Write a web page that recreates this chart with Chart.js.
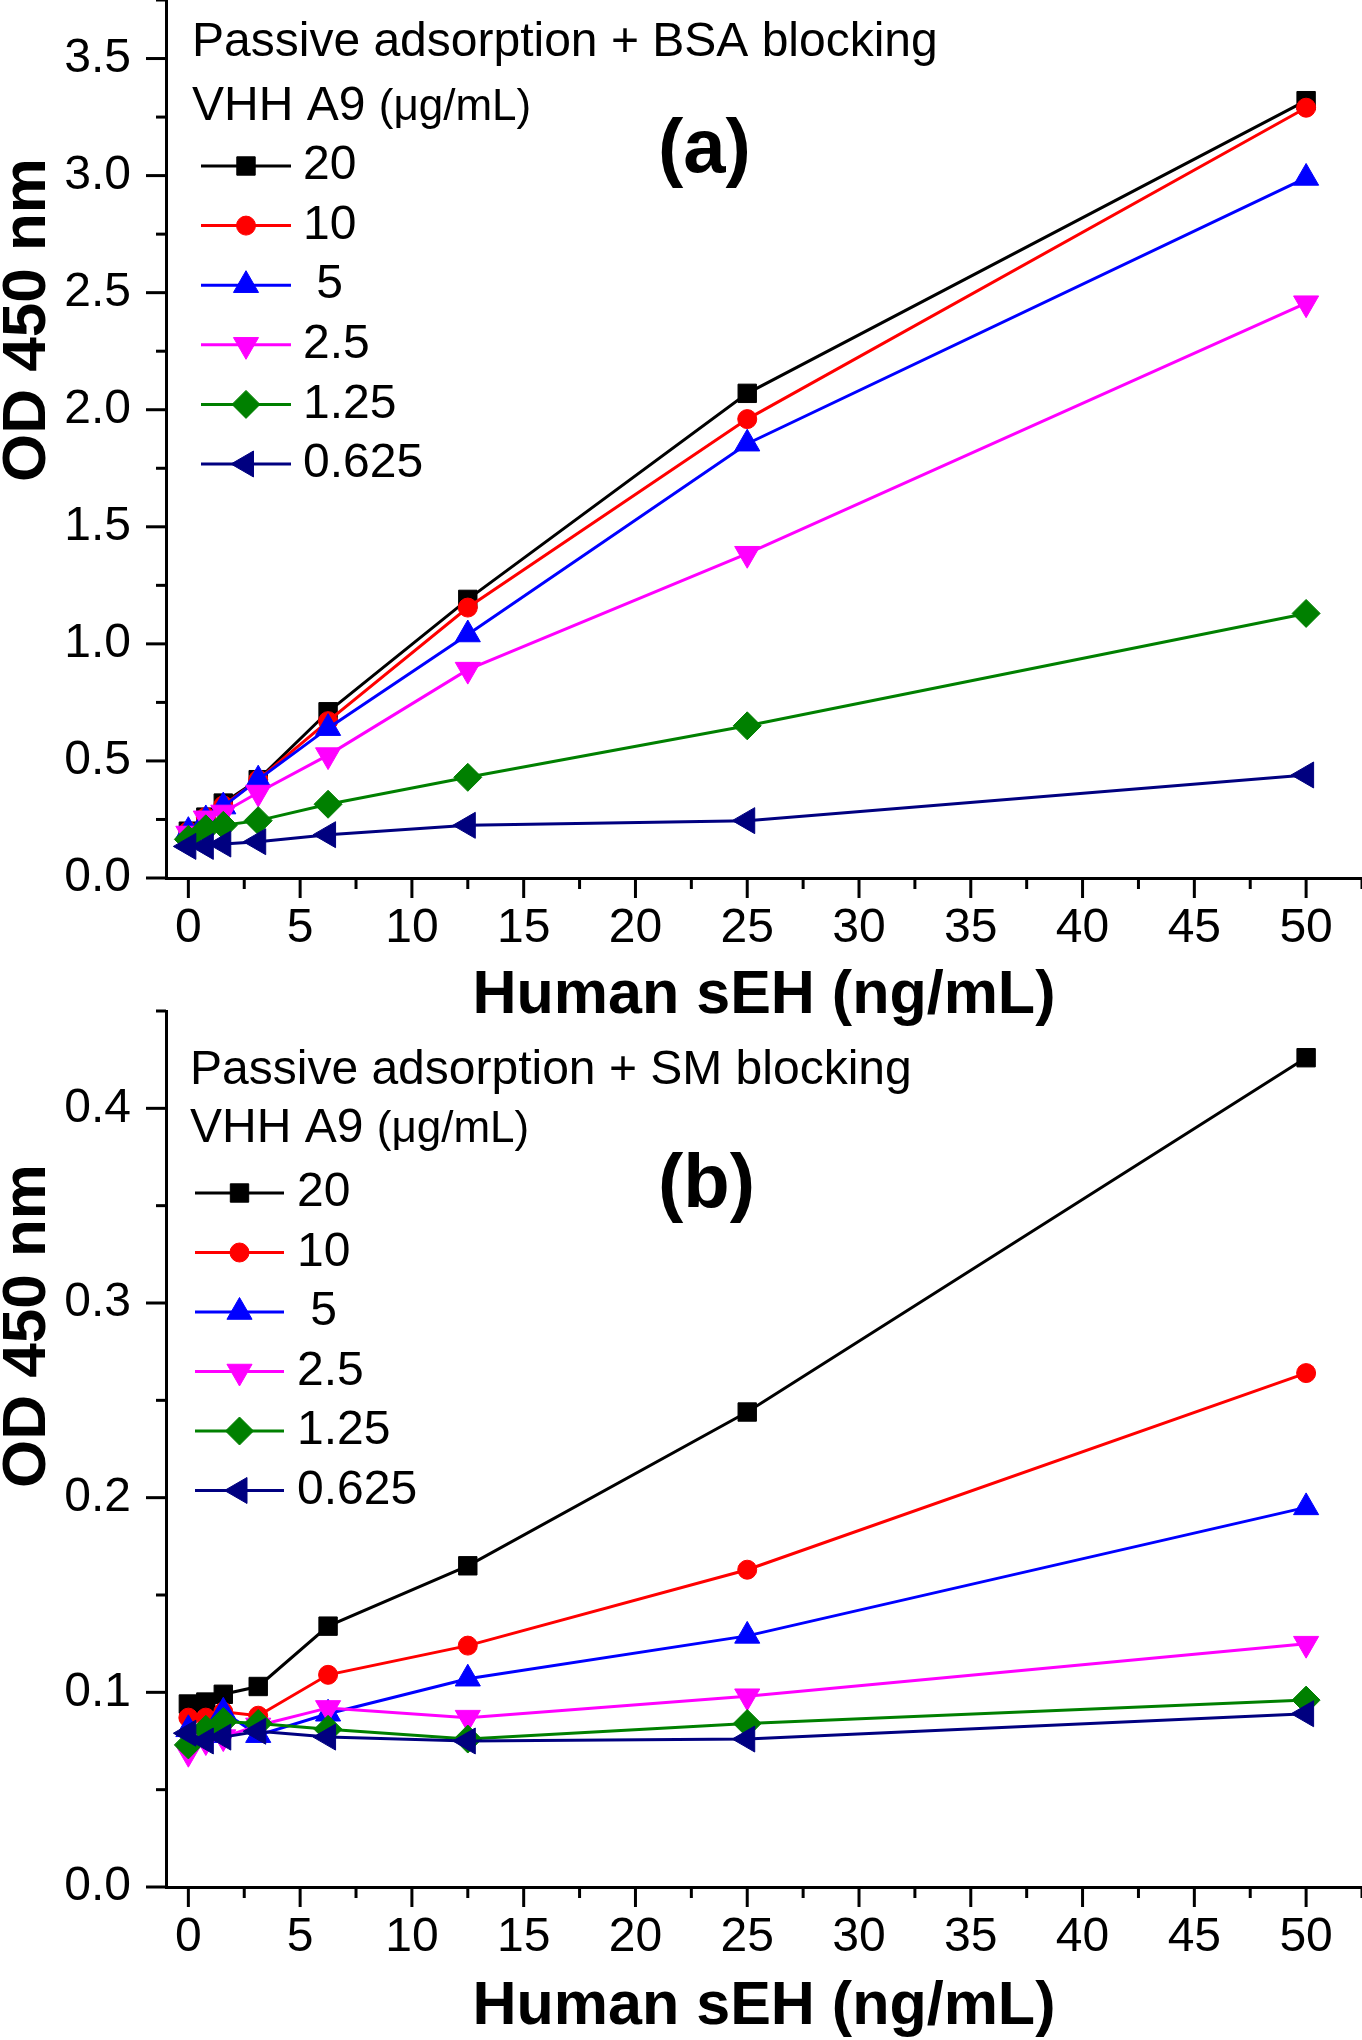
<!DOCTYPE html>
<html lang="en">
<head>
  <meta charset="UTF-8">
  <title>VHH A9 ELISA - Human sEH</title>
  <script src="https://cdn.jsdelivr.net/npm/chart.js"></script>
  <style>
    html, body {
      margin: 0;
      padding: 0;
      background: #fff;
    }
    #wrap {
      position: relative;
      width: 1362px;
      height: 2040px;
    }
    canvas {
      position: absolute;
      left: 0;
    }
    #chartA { top: 0; }
    #chartB { top: 990px; }
  </style>
</head>
<body>

  <div id="wrap">
    <canvas id="chartA" width="1362" height="1040"></canvas>
    <canvas id="chartB" width="1362" height="1050"></canvas>
  </div>

  <script>
    // Human sEH concentrations (ng/mL)
    const sehConc = [0, 0.78125, 1.5625, 3.125, 6.25, 12.5, 25, 50];
    // VHH A9 coating concentrations (ug/mL)
    const vhhLabels = ['20', '10', ' 5', '2.5', '1.25', '0.625'];

    // (a) passive adsorption + BSA blocking
    const bsa20   = [0.20, 0.26, 0.32, 0.42, 0.71, 1.19, 2.07, 3.32];
    const bsa10   = [0.20, 0.26, 0.31, 0.42, 0.67, 1.155, 1.96, 3.29];
    const bsa5    = [0.20, 0.25, 0.305, 0.42, 0.64, 1.04, 1.855, 2.99];
    const bsa2_5  = [0.19, 0.255, 0.28, 0.365, 0.525, 0.89, 1.385, 2.455];
    const bsa1_25 = [0.165, 0.21, 0.225, 0.245, 0.315, 0.43, 0.65, 1.13];
    const bsa0_625 = [0.135, 0.135, 0.145, 0.155, 0.185, 0.225, 0.245, 0.44];

    // (b) passive adsorption + SM blocking
    const sm20   = [0.094, 0.095, 0.099, 0.103, 0.134, 0.165, 0.244, 0.426];
    const sm10   = [0.087, 0.087, 0.090, 0.088, 0.109, 0.124, 0.163, 0.264];
    const sm5    = [0.081, 0.078, 0.090, 0.078, 0.089, 0.107, 0.129, 0.195];
    const sm2_5  = [0.069, 0.075, 0.077, 0.083, 0.092, 0.087, 0.098, 0.125];
    const sm1_25 = [0.073, 0.081, 0.085, 0.084, 0.081, 0.076, 0.084, 0.096];
    const sm0_625 = [0.079, 0.075, 0.077, 0.080, 0.077, 0.075, 0.076, 0.089];

    // tick positions (labels only on the major ones)
    const xTicks = [0, 2.5, 5, 7.5, 10, 12.5, 15, 17.5, 20, 22.5, 25, 27.5, 30, 32.5, 35, 37.5, 40, 42.5, 45, 47.5, 50, 52.5];
    const yTicksA = [0, 0.25, 0.5, 0.75, 1, 1.25, 1.5, 1.75, 2, 2.25, 2.5, 2.75, 3, 3.25, 3.5, 3.75];
    const yTicksB = [0, 0.05, 0.1, 0.15, 0.2, 0.25, 0.3, 0.35, 0.4, 0.45];

    // series styles
    const seriesColors = ['#000000', '#ff0000', '#0000ff', '#ff00ff', '#008000', '#000080'];
    const pointStyles = ['rect', 'circle', 'triangle', 'triangle', 'rectRot', 'triangle'];
    const pointRotations = [0, 0, 0, 180, 0, 270];
    const pointRadii = [13, 9.5, 14.5, 14.5, 14, 15];

    const FONT = "'Liberation Sans', Arial, sans-serif";
    Chart.defaults.font.family = FONT;
    Chart.defaults.color = '#000';

    function isMajor(v, step) {
      return Math.abs(v / step - Math.round(v / step)) < 1e-6;
    }

    // ticks, y title, header text, legend and panel letter
    const panelDecor = {
      id: 'panelDecor',
      afterDraw(chart, args, o) {
        const ctx = chart.ctx;
        const area = chart.chartArea;
        ctx.save();

        // outward tick marks, long on labelled ticks
        ctx.strokeStyle = '#000';
        ctx.lineWidth = 3;
        const xs = chart.scales.x;
        xs.ticks.forEach(t => {
          const p = xs.getPixelForValue(t.value);
          const len = isMajor(t.value, o.xMajor) ? 20 : 11;
          ctx.beginPath();
          ctx.moveTo(p, area.bottom);
          ctx.lineTo(p, area.bottom + len);
          ctx.stroke();
        });
        const ys = chart.scales.y;
        ys.ticks.forEach(t => {
          const p = ys.getPixelForValue(t.value);
          const len = isMajor(t.value, o.yMajor) ? 20 : 10;
          ctx.beginPath();
          ctx.moveTo(area.left, p);
          ctx.lineTo(area.left - len, p);
          ctx.stroke();
        });

        // y axis title
        ctx.fillStyle = '#000';
        ctx.save();
        ctx.translate(o.yTitleX, o.yTitleY);
        ctx.rotate(-Math.PI / 2);
        ctx.font = 'bold 62px ' + FONT;
        ctx.textAlign = 'center';
        ctx.textBaseline = 'middle';
        ctx.fillText('OD 450 nm', 0, 0);
        ctx.restore();

        // header lines
        ctx.textAlign = 'left';
        ctx.textBaseline = 'alphabetic';
        ctx.font = '48px ' + FONT;
        ctx.fillText(o.header, o.headerX, o.headerY1);
        ctx.fillText('VHH A9', o.headerX, o.headerY2);
        const w = ctx.measureText('VHH A9 ').width;
        ctx.font = '44px ' + FONT;
        ctx.fillText('(\u03bcg/mL)', o.headerX + w, o.headerY2);

        // panel letter
        ctx.font = 'bold 76px ' + FONT;
        ctx.fillText(o.letter, o.letterX, o.letterY);

        // legend: line + marker + label
        chart.data.datasets.forEach((ds, i) => {
          const y = o.legendTop + i * o.legendGap;
          ctx.strokeStyle = ds.borderColor;
          ctx.lineWidth = 3;
          ctx.beginPath();
          ctx.moveTo(o.legendX0, y);
          ctx.lineTo(o.legendX1, y);
          ctx.stroke();
          ctx.fillStyle = ds.pointBackgroundColor;
          ctx.strokeStyle = ds.pointBorderColor;
          ctx.lineWidth = 1;
          Chart.helpers.drawPoint(ctx, {
            pointStyle: ds.pointStyle,
            rotation: ds.pointRotation,
            radius: ds.pointRadius,
            borderWidth: 1
          }, (o.legendX0 + o.legendX1) / 2, y);
          ctx.fillStyle = '#000';
          ctx.font = '48px ' + FONT;
          ctx.textBaseline = 'middle';
          ctx.fillText(ds.label, o.legendTextX, y);
        });

        ctx.restore();
      }
    };

    function buildPanel(canvasId, series, cfg) {
      const datasets = series.map((vals, i) => ({
        label: vhhLabels[i],
        data: sehConc.map((x, j) => ({ x: x, y: vals[j] })),
        borderColor: seriesColors[i],
        backgroundColor: seriesColors[i],
        pointBackgroundColor: seriesColors[i],
        pointBorderColor: seriesColors[i],
        borderWidth: 3,
        pointStyle: pointStyles[i],
        pointRotation: pointRotations[i],
        pointRadius: pointRadii[i],
        pointHoverRadius: pointRadii[i],
        pointBorderWidth: 1,
        tension: 0,
        order: series.length - i,
        clip: false
      }));

      const tickFont = { size: 48, family: FONT };

      return new Chart(document.getElementById(canvasId), {
        type: 'line',
        data: { datasets: datasets },
        plugins: [panelDecor],
        options: {
          responsive: false,
          animation: false,
          layout: {
            autoPadding: false,
            padding: { top: cfg.padTop, left: 0, right: 0, bottom: 0 }
          },
          scales: {
            x: {
              type: 'linear',
              min: -1,
              max: 52.5,
              afterBuildTicks: s => { s.ticks = xTicks.map(v => ({ value: v })); },
              afterFit: s => {
                s.height = cfg.xAxisHeight;
                s.paddingLeft = 0;
                s.paddingRight = 0;
              },
              grid: { display: false, drawTicks: false },
              border: { display: true, color: '#000', width: 3 },
              ticks: {
                autoSkip: false,
                maxRotation: 0,
                padding: 22,
                font: tickFont,
                color: '#000',
                callback: v => isMajor(v, 5) ? String(v) : ''
              },
              title: {
                display: true,
                text: 'Human sEH (ng/mL)',
                color: '#000',
                font: { size: 61, weight: 'bold', family: FONT },
                padding: { top: 0, bottom: cfg.xTitlePad }
              }
            },
            y: {
              type: 'linear',
              min: 0,
              max: cfg.yMax,
              afterBuildTicks: s => { s.ticks = cfg.yTicks.map(v => ({ value: v })); },
              afterFit: s => {
                s.width = 166;
                s.paddingTop = 0;
                s.paddingBottom = 0;
              },
              grid: { display: false, drawTicks: false },
              border: { display: true, color: '#000', width: 3 },
              ticks: {
                autoSkip: false,
                padding: 35,
                font: tickFont,
                color: '#000',
                callback: v => isMajor(v, cfg.yMajor) ? v.toFixed(1) : ''
              }
            }
          },
          plugins: {
            legend: { display: false },
            tooltip: { enabled: false },
            panelDecor: cfg.decor
          }
        }
      });
    }

    buildPanel('chartA', [bsa20, bsa10, bsa5, bsa2_5, bsa1_25, bsa0_625], {
      padTop: 0,
      xAxisHeight: 162,
      xTitlePad: 7,
      yMax: 3.75,
      yTicks: yTicksA,
      yMajor: 0.5,
      decor: {
        xMajor: 5, yMajor: 0.5,
        yTitleX: 28, yTitleY: 320,
        header: 'Passive adsorption + BSA blocking',
        headerX: 192, headerY1: 56, headerY2: 120,
        letter: '(a)', letterX: 658, letterY: 172,
        legendTop: 166, legendGap: 59.6,
        legendX0: 201, legendX1: 291, legendTextX: 303
      }
    });

    buildPanel('chartB', [sm20, sm10, sm5, sm2_5, sm1_25, sm0_625], {
      padTop: 21,
      xAxisHeight: 153,
      xTitlePad: -4,
      yMax: 0.45,
      yTicks: yTicksB,
      yMajor: 0.1,
      decor: {
        xMajor: 5, yMajor: 0.1,
        yTitleX: 28, yTitleY: 336,
        header: 'Passive adsorption + SM blocking',
        headerX: 190, headerY1: 94, headerY2: 152,
        letter: '(b)', letterX: 658, letterY: 217,
        legendTop: 203, legendGap: 59.5,
        legendX0: 195, legendX1: 284, legendTextX: 297
      }
    });
  </script>

</body>
</html>
